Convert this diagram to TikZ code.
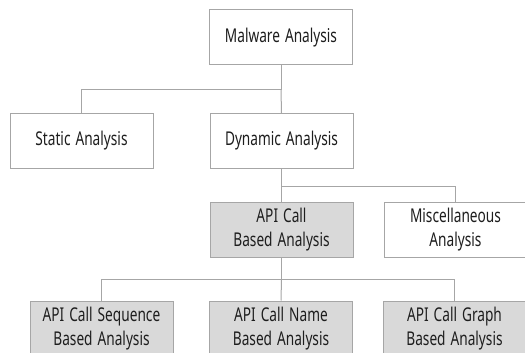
\documentclass[tikz,border=0pt]{standalone}
\usepackage{fontspec}
\setmainfont[FakeStretch=0.72,WordSpace=1.4]{Noto Sans}
\definecolor{bordergray}{HTML}{A6A6A6}
\definecolor{fillgray}{HTML}{D9D9D9}
\definecolor{textcol}{HTML}{1E1E1E}
\begin{document}
\begin{tikzpicture}[x=1pt,y=-1pt,
  box/.style={draw=bordergray, line width=1pt, fill=white, minimum width=143pt, minimum height=55pt,
    inner sep=0pt, align=center, text=textcol, font=\fontsize{19}{24}\selectfont},
  graybox/.style={box, fill=fillgray},
  link/.style={draw=bordergray, line width=1pt}]
\useasboundingbox (0,0) rectangle (525,353);
\clip (0,0) rectangle (525,353);
\fill[white] (0,0) rectangle (525,353);
\node[box] (mal) at (281,37.5) {Malware Analysis};
\node[box] (sta) at (81.5,141) {Static Analysis};
\node[box] (dyn) at (281.5,141) {Dynamic Analysis};
\node[graybox] (api) at (281.5,229.5) {API Call\\Based Analysis};
\node[box] (misc) at (455.5,229.5) {Miscellaneous\\Analysis};
\node[graybox] (seq) at (101.5,328.5) {API Call Sequence\\Based Analysis};
\node[graybox] (nam) at (281,328.5) {API Call Name\\Based Analysis};
\node[graybox] (gra) at (454.5,328.5) {API Call Graph\\Based Analysis};
\coordinate (j1) at (281,90);
\coordinate (j2) at (281.5,186);
\coordinate (j3) at (281.5,279);
\draw[link] (mal.south) -- (j1) -| (sta.north);
\draw[link] (j1) -- (dyn.north);
\draw[link] (dyn.south) -- (j2) -| (misc.north);
\draw[link] (j2) -- (api.north);
\draw[link] (api.south) -- (j3) -| (seq.north);
\draw[link] (j3) -| (gra.north);
\draw[link] (j3) -- (nam.north);
\end{tikzpicture}
\end{document}
